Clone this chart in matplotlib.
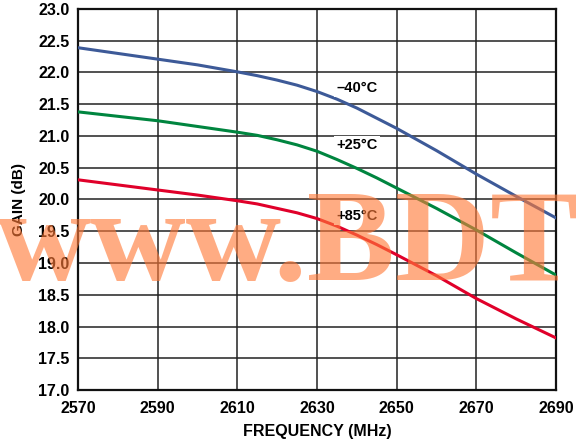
import matplotlib
matplotlib.use("Agg")
import matplotlib.pyplot as plt

# datos
freq = [2570, 2580, 2590, 2600, 2610, 2615, 2620, 2625, 2630, 2635, 2640, 2645,
        2650, 2660, 2670, 2680, 2690]
gain_m40 = [22.39, 22.30, 22.21, 22.12, 22.01, 21.95, 21.88, 21.80, 21.70, 21.58,
            21.44, 21.28, 21.12, 20.77, 20.40, 20.05, 19.71]
gain_p25 = [21.38, 21.31, 21.24, 21.15, 21.06, 21.01, 20.94, 20.86, 20.76, 20.63,
            20.49, 20.34, 20.18, 19.86, 19.52, 19.16, 18.81]
gain_p85 = [20.31, 20.23, 20.15, 20.07, 19.98, 19.93, 19.86, 19.79, 19.70, 19.58,
            19.44, 19.29, 19.13, 18.80, 18.44, 18.12, 17.82]

labels = ["\u201340\u00b0C", "+25\u00b0C", "+85\u00b0C"]
label_pos = [(2640, 21.76), (2640, 20.86), (2640, 19.74)]

xticks = [2570, 2590, 2610, 2630, 2650, 2670, 2690]
yticks = [17.0 + 0.5 * i for i in range(13)]

plt.rcParams['font.family'] = ['Liberation Sans', 'DejaVu Sans']

fig = plt.figure(figsize=(5.76, 4.47), dpi=100)
ax = fig.add_axes([0.1354, 0.1275, 0.8299, 0.8524])

ax.plot(freq, gain_m40, color='#3d5a98', lw=2.2, zorder=3)
ax.plot(freq, gain_p25, color='#00853f', lw=2.2, zorder=3)
ax.plot(freq, gain_p85, color='#e0002a', lw=2.2, zorder=3)

for txt, (x, y) in zip(labels, label_pos):
    ax.text(x, y, txt, ha='center', va='center', fontsize=10.5, fontweight='bold',
            bbox=dict(facecolor='white', edgecolor='none', pad=1.5), zorder=4)

ax.set_xlim(2570, 2690)
ax.set_ylim(17.0, 23.0)
ax.set_xticks(xticks)
ax.set_yticks(yticks)
ax.set_yticklabels([f"{v:.1f}" for v in yticks])
ax.tick_params(length=0, labelsize=11.5)
ax.tick_params(axis='y', pad=6)
ax.tick_params(axis='x', pad=8)
for lab in ax.get_xticklabels() + ax.get_yticklabels():
    lab.set_fontweight('bold')
ax.grid(True, color='#222222', lw=1.1)
for s in ax.spines.values():
    s.set_linewidth(1.6)
    s.set_color('#111111')

ax.set_xlabel("FREQUENCY (MHz)", fontsize=11.5, fontweight='bold', labelpad=6)
ax.set_ylabel("GAIN (dB)", fontsize=11, fontweight='bold', labelpad=9)

# marca de agua
fig.text(-0.008, 0.373, "www.BDT", fontsize=95, fontweight='bold',
         family='Liberation Serif', color='#ff7a38', alpha=0.62,
         ha='left', va='baseline', zorder=10)

fig.savefig("out.png", dpi=100)
